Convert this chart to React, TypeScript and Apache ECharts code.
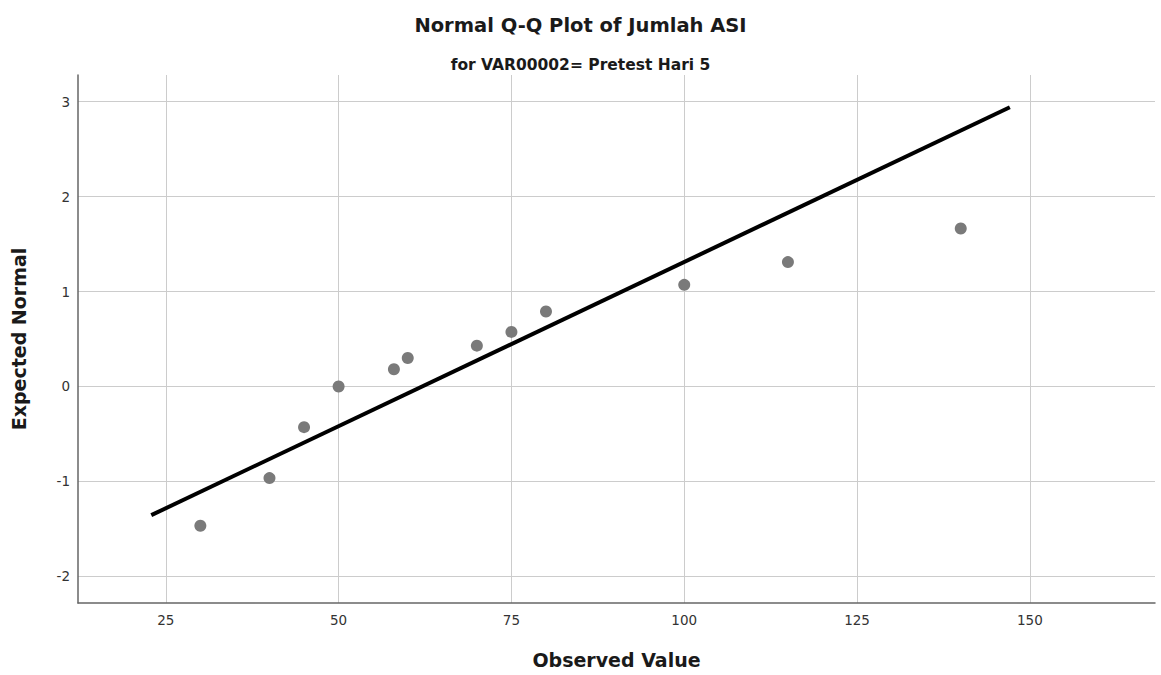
import React, { useEffect, useRef } from "react";
import * as echarts from "echarts";

// Observed values and their expected normal scores
const observed = [30, 40, 45, 50, 58, 60, 70, 75, 80, 100, 115, 140];
const expectedNormal = [-1.467, -0.965, -0.428, 0.0, 0.182, 0.3, 0.43, 0.575, 0.79, 1.07, 1.31, 1.663];

// Reference line end points
const refLineX = [22.9, 147.1];
const refLineY = [-1.355, 2.94];

// Tick positions
const xTicks = [25, 50, 75, 100, 125, 150];
const yTicks = [-2, -1, 0, 1, 2, 3];

const FONT = "'DejaVu Sans', Verdana, sans-serif";

export default function App() {
  const ref = useRef<HTMLDivElement>(null);

  useEffect(() => {
    if (!ref.current) return;
    const chart = echarts.init(ref.current, null, { renderer: "svg" });
    chart.setOption({
      animation: false,
      backgroundColor: "#ffffff",
      title: [
        {
          text: "Normal Q-Q Plot of Jumlah ASI",
          left: "center",
          top: 10,
          textStyle: { fontFamily: FONT, fontSize: 19.5, fontWeight: "bold", color: "#1a1a1a" },
        },
        {
          text: "for VAR00002= Pretest Hari 5",
          left: "center",
          top: 52,
          textStyle: { fontFamily: FONT, fontSize: 15.5, fontWeight: "bold", color: "#1a1a1a" },
        },
      ],
      grid: { left: 78, right: 6, top: 75, bottom: 72 },
      xAxis: {
        type: "value",
        min: 12.3,
        max: 168.1,
        name: "Observed Value",
        nameLocation: "middle",
        nameGap: 47,
        nameTextStyle: { fontFamily: FONT, fontSize: 19, fontWeight: "bold", color: "#1a1a1a" },
        axisLine: { show: true, onZero: false, lineStyle: { color: "#666666", width: 1.5 } },
        axisTick: { show: false, customValues: xTicks },
        axisLabel: {
          customValues: xTicks,
          margin: 10,
          fontFamily: FONT,
          fontSize: 13.5,
          color: "#333333",
        },
        splitLine: { show: true, lineStyle: { color: "#cccccc", width: 1 } },
      },
      yAxis: {
        type: "value",
        min: -2.28,
        max: 3.28,
        name: "Expected Normal",
        nameLocation: "middle",
        nameGap: 50,
        nameTextStyle: { fontFamily: FONT, fontSize: 19, fontWeight: "bold", color: "#1a1a1a" },
        axisLine: { show: true, onZero: false, lineStyle: { color: "#666666", width: 1.5 } },
        axisTick: { show: false, customValues: yTicks },
        axisLabel: {
          customValues: yTicks,
          margin: 8,
          fontFamily: FONT,
          fontSize: 13.5,
          color: "#333333",
        },
        splitLine: { show: true, lineStyle: { color: "#cccccc", width: 1 } },
      },
      series: [
        {
          type: "scatter",
          data: observed.map((x, i) => [x, expectedNormal[i]]),
          symbol: "circle",
          symbolSize: 12,
          itemStyle: { color: "#7a7a7a", opacity: 1 },
          z: 2,
        },
        {
          type: "line",
          data: refLineX.map((x, i) => [x, refLineY[i]]),
          symbol: "none",
          lineStyle: { color: "#000000", width: 4 },
          z: 3,
        },
      ],
    });
    return () => chart.dispose();
  }, []);

  return (
    <div
      ref={ref}
      style={{ position: "absolute", left: 0, top: 0, width: 1161, height: 675 }}
    />
  );
}
